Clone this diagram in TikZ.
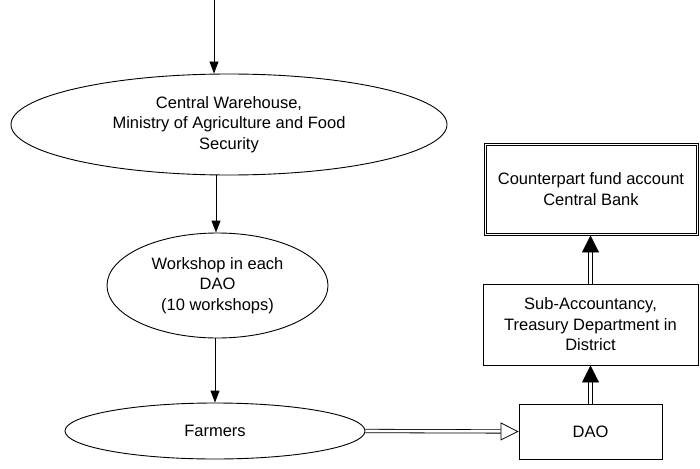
\documentclass[tikz,border=0pt]{standalone}
\usepackage{fontspec}
\setmainfont{Liberation Sans}
\usetikzlibrary{shapes.geometric,arrows.meta}
\begin{document}
\begin{tikzpicture}[x=1pt,y=-1pt,
  every node/.style={font=\fontsize{16.5}{20.5}\selectfont, align=center, inner sep=0pt},
  oval/.style={ellipse, draw, line width=0.9pt},
  office/.style={rectangle, draw, line width=0.9pt},
  inframe/.style={line width=0.7pt},
  flow/.style={line width=0.9pt, -{Triangle[length=12pt,width=9pt]}},
  fund/.style={double, double distance=2.6pt, line width=0.8pt, -{Triangle[length=17pt,width=17pt]}},
  fundopen/.style={double, double distance=2.6pt, line width=0.8pt, -{Triangle[open,length=18pt,width=18pt]}},
]
\useasboundingbox (0,0) rectangle (700,468);

% goods flow
\coordinate (src) at (214,0);
\node[oval, minimum width=436pt, minimum height=101pt] (cw) at (229,124.5)
  {Central Warehouse,\\Ministry of Agriculture and Food\\Security};
\node[oval, minimum width=221pt, minimum height=105pt] (ws) at (217.5,285.5)
  {Workshop in each\\DAO\\(10 workshops)};
\node[oval, minimum width=300pt, minimum height=56pt] (fa) at (215,431)
  {Farmers};

% fund flow
\node[office, minimum width=143pt, minimum height=55pt] (dao) at (590.5,431.5) {DAO};
\node[office, minimum width=215pt, minimum height=81pt] (sub) at (590.5,324.5)
  {Sub-Accountancy,\\Treasury Department in\\District};
\node[office, minimum width=214pt, minimum height=92pt] (cb) at (591,189)
  {Counterpart fund account\\Central Bank};
% inner line of the double frame
\draw[inframe] ([shift={(2.6pt,-2.6pt)}]cb.north west) rectangle ([shift={(-2.6pt,2.6pt)}]cb.south east);

% connectors
\draw[flow] (src) -- (src |- cw.north);
\draw[flow] (216,175) coordinate (cwout) -- (cwout |- ws.north);
\draw[flow] (ws.south -| fa.north) -- (fa.north);
\draw[fundopen] (fa.east) -- (dao.west);
\draw[fund] (dao.north) -- (dao.north |- sub.south);
\draw[fund] (sub.north) -- (sub.north |- cb.south);
\end{tikzpicture}
\end{document}
